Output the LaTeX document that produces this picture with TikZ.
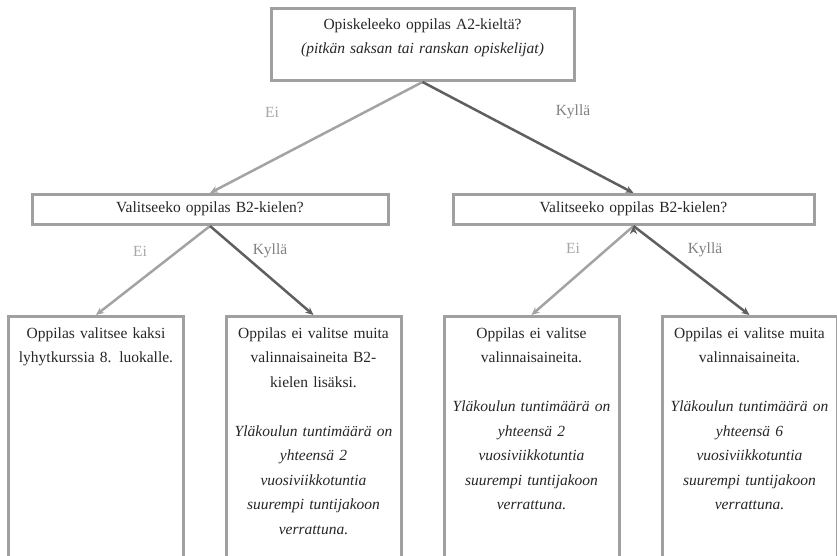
\documentclass[tikz,border=0pt]{standalone}
\usepackage{fontspec}
\setmainfont{Liberation Serif}
\usetikzlibrary{arrows.meta,positioning}
\usepackage{xcolor}
\definecolor{framegray}{HTML}{A0A0A0}
\definecolor{nogray}{HTML}{A3A3A3}
\definecolor{yesgray}{HTML}{5F5F5F}
\definecolor{nolabel}{HTML}{A6A6A6}
\definecolor{yeslabel}{HTML}{7F7F7F}
\definecolor{textdark}{HTML}{262626}

\begin{document}
\begin{tikzpicture}[x=1pt,y=-1pt]
\tikzstyle{question} = [
	shape=rectangle,
	draw=framegray, %grey frame round the question
	line width=3pt,
	text=textdark,
	font=\fontsize{15.5}{24.5}\selectfont,
	align=center,
	inner xsep=0pt,
	text height=11pt
];
\tikzstyle{answer} = [
	question,
	anchor=north,
	text width=175pt,
	inner ysep=10.5pt,
	text depth=240pt %boxes run off the page
];
\tikzstyle{choice} = [
	font=\fontsize{15.5}{24.5}\selectfont,
	inner sep=0pt
];

\useasboundingbox (0,0) rectangle (837,555);
\clip (0,0) rectangle (837,555);

%questions
\node[question, anchor=north, text width=303pt, inner ysep=9.5pt, text depth=42pt](A2) at (422.5,7)
	{Opiskeleeko oppilas A2-kieltä?\\ \textit{(pitkän saksan tai ranskan opiskelijat)}};
\node[question, anchor=north, text width=356pt, inner ysep=6.5pt, text depth=6pt](B2no) at (210,193)
	{Valitseeko oppilas B2-kielen?};
\node[question, anchor=north, text width=361pt, inner ysep=6.5pt, text depth=6pt](B2yes) at (633.5,193)
	{Valitseeko oppilas B2-kielen?};

%answers
\node[answer](Lk) at (96,315)
	{Oppilas valitsee kaksi\\ lyhytkurssia 8. luokalle.};
\node[answer](Bk) at (313.5,315)
	{Oppilas ei valitse muita\\ valinnaisaineita B2-\\ kielen lisäksi.\\[24.5pt]
	{\itshape Yläkoulun tuntimäärä on\\ yhteensä 2\\ vuosiviikkotuntia\\ suurempi tuntijakoon\\ verrattuna.}};
\node[answer](Ak) at (531.5,315)
	{Oppilas ei valitse\\ valinnaisaineita.\\[24.5pt]
	{\itshape Yläkoulun tuntimäärä on\\ yhteensä 2\\ vuosiviikkotuntia\\ suurempi tuntijakoon\\ verrattuna.}};
\node[answer](ABk) at (749.5,315)
	{Oppilas ei valitse muita\\ valinnaisaineita.\\[24.5pt]
	{\itshape Yläkoulun tuntimäärä on\\ yhteensä 6\\ vuosiviikkotuntia\\ suurempi tuntijakoon\\ verrattuna.}};

%labels
\node[choice, text=nolabel](eiA2) at (272,112) {Ei};
\node[choice, text=yeslabel](kyllaA2) at (573,112) {Kyllä};
\node[choice, text=nolabel](eiB2no) at (140,251) {Ei};
\node[choice, text=yeslabel](kyllaB2no) at (270,251) {Kyllä};
\node[choice, text=nolabel](eiB2yes) at (573,248) {Ei};
\node[choice, text=yeslabel](kyllaB2yes) at (705,250) {Kyllä};

%no branches
\draw[-{Stealth[length=8pt,width=7pt]}, line width=2.5pt, color=nogray]
	(A2.south) edge[] (B2no.north)
	(B2no.south) edge[] (Lk.north)
	(B2yes.south) edge[] (Ak.north)
;

%yes branches
\draw[-{Stealth[length=8pt,width=7pt]}, line width=2.5pt, color=yesgray]
	(A2.south) edge[] (B2yes.north)
	(B2no.south) edge[] (Bk.north)
	(B2yes.south) edge[] (ABk.north)
;
\end{tikzpicture}
\end{document}
